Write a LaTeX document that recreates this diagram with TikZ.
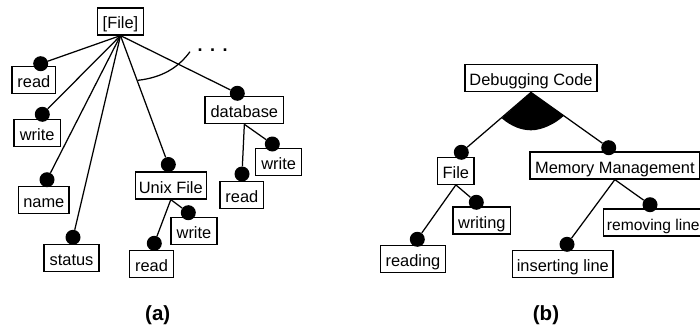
\documentclass[tikz,border=0pt]{standalone}
\usepackage{fontspec}
\setmainfont{Liberation Sans}
\begin{document}
\begin{tikzpicture}[x=1pt,y=-1pt,
  box/.style={draw=black,line width=1.2pt,fill=white,inner sep=0pt,text height=21pt,text depth=6pt,font=\fontsize{16.4}{18}\selectfont},
  dot/.style={circle,fill=black,draw=none,inner sep=0pt,minimum size=15pt},
  link/.style={line width=1.25pt,black},
  captext/.style={font=\fontsize{20.5}{24}\selectfont\bfseries}]
\useasboundingbox (0,0) rectangle (700,329);
% panel (a)
\node[box,minimum width=46pt] (file) at (120.5,21.5) {[File]};
\node[box,minimum width=43.7pt] (read1) at (33.85,79.8) {read};
\node[box,minimum width=46.3pt] (write1) at (37.15,132.8) {write};
\node[box,minimum width=50.3pt] (name) at (43.85,200) {name};
\node[box,minimum width=55pt] (status) at (71.5,258.2) {status};
\node[box,minimum width=71pt] (unix) at (170.8,185.5) {Unix File};
\node[box,minimum width=43.6pt] (read2) at (151.5,263.8) {read};
\node[box,minimum width=46pt] (write2) at (194,230.8) {write};
\node[box,minimum width=78.7pt] (db) at (244.35,110.2) {database};
\node[box,minimum width=46pt] (write3) at (278.7,162.2) {write};
\node[box,minimum width=43.7pt] (read3) at (241.85,194.8) {read};
\node[dot] (d1) at (40.7,63.7) {};
\node[dot] (d2) at (42.3,114.3) {};
\node[dot] (d3) at (47,179.7) {};
\node[dot] (d4) at (73,237.3) {};
\node[dot] (d5) at (168.3,164.5) {};
\node[dot] (d6) at (237.3,93.3) {};
\node[dot] (d7) at (154.3,243.3) {};
\node[dot] (d8) at (188.3,212.7) {};
\node[dot] (d9) at (272.3,144) {};
\node[dot] (d10) at (242,174) {};
\foreach \t in {d1,d2,d3,d4,d5,d6} \draw[link] (file.south) -- (\t);
\draw[link] (unix.south) -- (d7);
\draw[link] (unix.south) -- (d8);
\draw[link] (db.south) -- (d9);
\draw[link] (db.south) -- (d10);
\coordinate (arcA) at (138,80.3);
\coordinate (arcB) at (190,51.7);
\draw[link] (arcA) .. controls (162,77.5) and (178,68) .. (arcB);
\node[inner sep=0pt,font=\fontsize{18}{20}\selectfont\bfseries] (more) at (212.7,50.5) {.\hspace{7.5pt}.\hspace{7.5pt}.};
\node[captext] (capa) at (157.7,315) {(a)};
% panel (b)
\node[box,minimum width=132pt] (debug) at (531,78.3) {Debugging Code};
\coordinate (fanL) at (501.7,118.3);
\coordinate (fanR) at (564,115.7);
\fill[black] (debug.south) -- (fanL) .. controls (512,127) and (522,130.3) .. (531,130.3) .. controls (542,130.3) and (555,124) .. (fanR) -- cycle;
\node[box,minimum width=36.3pt] (fileb) at (455.85,170.8) {File};
\node[box,minimum width=169.7pt] (mem) at (614.85,165.5) {Memory Management};
\node[box,minimum width=57.7pt] (writing) at (481.85,220.5) {writing};
\node[box,minimum width=64.6pt] (reading) at (413,258.8) {reading};
\node[box,minimum width=100pt,font=\fontsize{15.6}{18}\selectfont] (remove) at (653.3,222.5) {removing line};
\node[box,minimum width=100.3pt] (insert) at (562.85,263.8) {inserting line};
\node[dot] (e1) at (461.3,152.3) {};
\node[dot] (e2) at (608.7,147.7) {};
\node[dot] (e3) at (476.3,202.3) {};
\node[dot] (e4) at (417.3,239.3) {};
\node[dot] (e5) at (650,204.7) {};
\node[dot] (e6) at (567,244.3) {};
\draw[link] (debug.south) -- (e1);
\draw[link] (debug.south) -- (e2);
\draw[link] (fileb.south) -- (e3);
\draw[link] (fileb.south) -- (e4);
\draw[link] (mem.south) -- (e5);
\draw[link] (mem.south) -- (e6);
\node[captext] (capb) at (546,315) {(b)};
\end{tikzpicture}
\end{document}
